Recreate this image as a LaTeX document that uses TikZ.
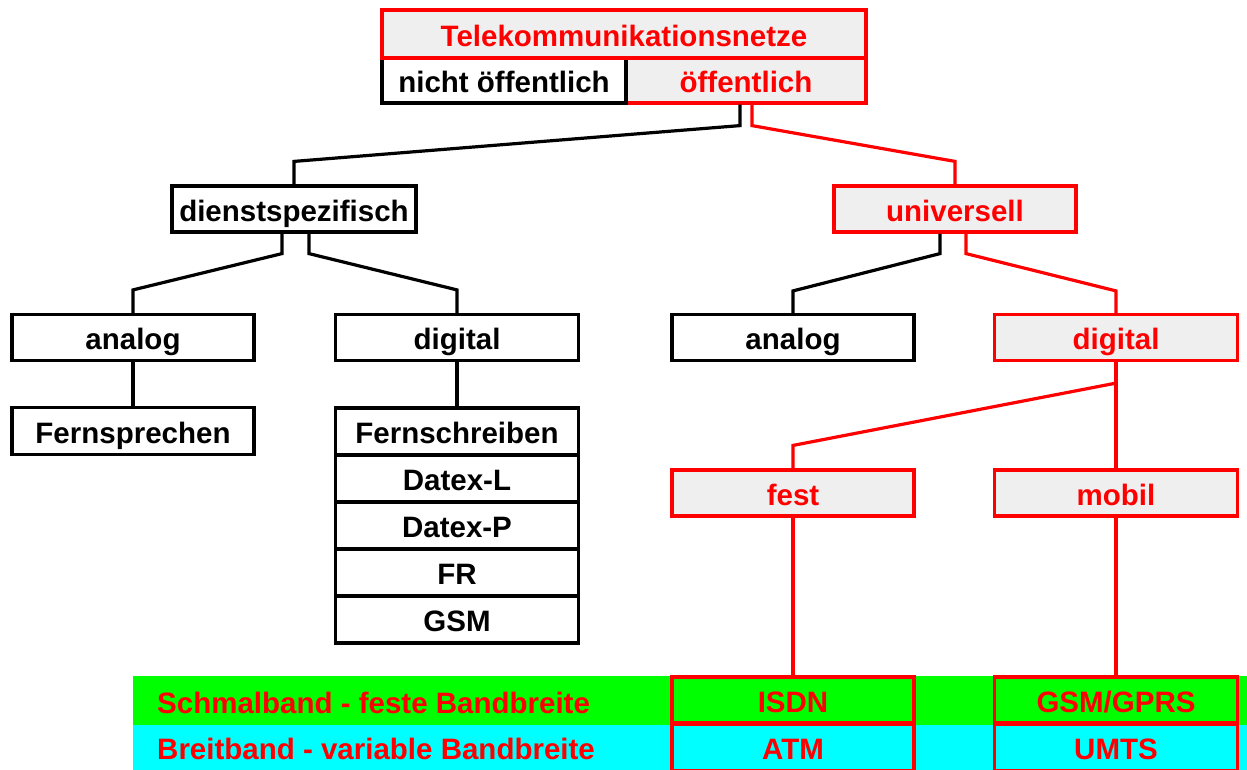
\documentclass[tikz,border=0pt]{standalone}
\usepackage{fontspec}
\setmainfont{Liberation Sans}
\definecolor{boxgray}{HTML}{EFEFEF}
\definecolor{bandgreen}{HTML}{00FF00}
\definecolor{bandcyan}{HTML}{00FFFF}
\begin{document}
\begin{tikzpicture}[x=1pt,y=-1pt,
  box/.style={rectangle, line width=3.2pt, minimum height=46pt, inner sep=0pt,
              text height=24pt, text depth=0pt, font=\fontsize{29.5}{34}\selectfont\bfseries},
  blackbox/.style={box, draw=black, fill=white, text=black},
  redbox/.style={box, draw=red, fill=boxgray, text=red},
  bandbox/.style={box, draw=red, text=red},
  blk/.style={draw=black, line width=3.2pt},
  rd/.style={draw=red, line width=3.2pt},
  bandtext/.style={anchor=west, inner sep=0pt, text=red, text height=24pt, text depth=0pt,
              font=\fontsize{29.5}{34}\selectfont\bfseries}]
\useasboundingbox (0,0) rectangle (1247,769);

% bands for narrowband / broadband
\fill[bandgreen] (133,676) rectangle (1250,725);
\fill[bandcyan] (133,725) rectangle (1250,772);
\node[bandtext] (schmal) at (157,701) {Schmalband - feste Bandbreite};
\node[bandtext] (breit) at (157,747) {Breitband - variable Bandbreite};

% root
\node[redbox, minimum width=240pt, minimum height=45pt] (oef) at (746,80.5) {öffentlich};
\node[blackbox, minimum width=244pt, minimum height=45pt] (noef) at (504,80.5) {nicht öffentlich};
\node[redbox, minimum width=484pt, minimum height=48pt] (root) at (624,34) {Telekommunikationsnetze};

% second level
\node[blackbox, minimum width=244pt] (dienst) at (294,209) {dienstspezifisch};
\node[redbox, minimum width=242pt] (univ) at (955,209) {universell};

% third level
\node[blackbox, minimum width=242pt] (lanalog) at (133,337.5) {analog};
\node[blackbox, minimum width=243pt] (ldigital) at (457,337.5) {digital};
\node[blackbox, minimum width=242pt] (ranalog) at (793,337.5) {analog};
\node[redbox, minimum width=243pt] (rdigital) at (1116,337.5) {digital};

% services
\node[blackbox, minimum width=242pt, minimum height=47pt] (fsp) at (133,431) {Fernsprechen};
\node[blackbox, minimum width=243pt, minimum height=47pt] (fsc) at (457,431.5) {Fernschreiben};
\node[blackbox, minimum width=243pt, minimum height=47pt] (dxl) at (457,478.5) {Datex-L};
\node[blackbox, minimum width=243pt, minimum height=47pt] (dxp) at (457,525.5) {Datex-P};
\node[blackbox, minimum width=243pt, minimum height=47pt] (fr) at (457,572.5) {FR};
\node[blackbox, minimum width=243pt, minimum height=47pt] (gsm) at (457,619.5) {GSM};

% fixed / mobile
\node[redbox, minimum width=242pt] (fest) at (793,493) {fest};
\node[redbox, minimum width=243pt] (mobil) at (1116,493) {mobil};

% networks in the bands
\node[bandbox, minimum width=242pt, minimum height=46pt] (isdn) at (793,700) {ISDN};
\node[bandbox, minimum width=242pt, minimum height=47pt] (atm) at (793,747.5) {ATM};
\node[bandbox, minimum width=243pt, minimum height=46pt] (gprs) at (1116,700) {GSM/GPRS};
\node[bandbox, minimum width=243pt, minimum height=47pt] (umts) at (1116,747.5) {UMTS};

% connectors
\draw[blk] ([xshift=-6pt]oef.south) -- ++(0,21) -- ([yshift=23pt]dienst.north) -- (dienst.north);
\draw[rd]  ([xshift=6pt]oef.south) -- ++(0,21) -- ([yshift=23pt]univ.north) -- (univ.north);

\draw[blk] ([xshift=-12pt]dienst.south) -- ++(0,20) -- ([yshift=23pt]lanalog.north) -- (lanalog.north);
\draw[blk] ([xshift=15pt]dienst.south) -- ++(0,20) -- ([yshift=23pt]ldigital.north) -- (ldigital.north);

\draw[blk] ([xshift=-15pt]univ.south) -- ++(0,20) -- ([yshift=22pt]ranalog.north) -- (ranalog.north);
\draw[rd]  ([xshift=11pt]univ.south) -- ++(0,20) -- ([yshift=22pt]rdigital.north) -- (rdigital.north);

\draw[blk] (lanalog) -- (fsp);
\draw[blk] (ldigital) -- (fsc);

\draw[rd] (rdigital) -- (mobil);
\draw[rd] ([yshift=-21pt]rdigital.south) -- ([yshift=23pt]fest.north) -- (fest.north);

\draw[rd] (fest) -- (isdn);
\draw[rd] (mobil) -- (gprs);
\end{tikzpicture}
\end{document}
